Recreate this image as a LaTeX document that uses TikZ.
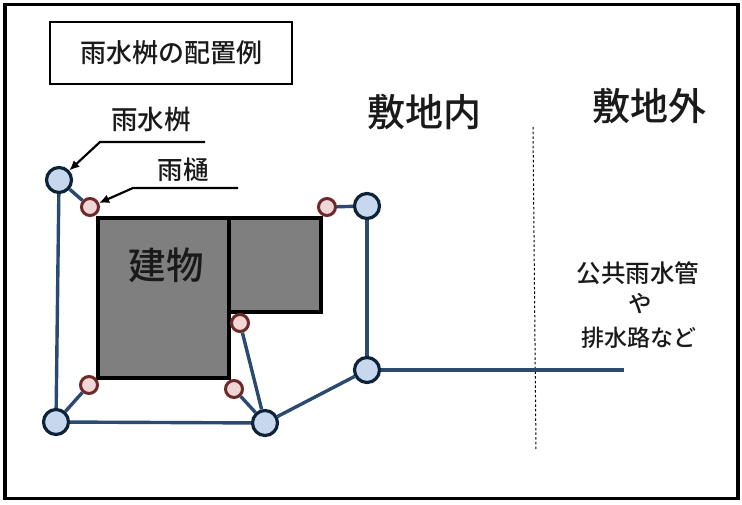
\documentclass[tikz,border=0pt]{standalone}
\usepackage{fontspec}
\usetikzlibrary{arrows.meta}
\setmainfont{Noto Sans CJK JP Medium}
\definecolor{pipe}{HTML}{2A4A72}
\definecolor{pitfill}{HTML}{C6D7EE}
\definecolor{pitline}{HTML}{0E2238}
\definecolor{spoutfill}{HTML}{F0D6D4}
\definecolor{spoutline}{HTML}{6E2A2A}
\definecolor{bldg}{HTML}{7F7F7F}
\definecolor{ink}{HTML}{1A1A1A}
\newcommand{\jp}[1]{\fontsize{#1}{#1}\selectfont}
\tikzset{
  pit/.style={circle,draw=pitline,fill=pitfill,line width=3.2pt,minimum size=25pt,inner sep=0pt},
  spout/.style={circle,draw=spoutline,fill=spoutfill,line width=3pt,minimum size=17pt,inner sep=0pt},
  pipeline/.style={draw=pipe,line width=3.4pt},
  building/.style={draw=black,fill=bldg,line width=3.4pt},
  leader/.style={draw=black,line width=2.2pt},
  label/.style={text=ink,inner sep=0pt,align=center}
}
\begin{document}
\begin{tikzpicture}[x=1pt,y=-1pt]
\useasboundingbox (0,0) rectangle (742,505);
\fill[white] (0,0) rectangle (742,505);
\draw[black,line width=3.4pt] (5,4.5) rectangle (738,498.5);
\node[draw=black,line width=2.2pt,minimum width=242pt,minimum height=62pt,inner sep=0pt,anchor=center,text=ink] (title) at (171,53) {\jp{26}雨水桝の配置例};
% buildings
\draw[building] (229,218) rectangle (321,312);
\draw[building] (98,218) rectangle (229,378);
\node[label] (bldgtext) at (166,265) {\jp{37.5}建物};
% boundary
\coordinate (dashtop) at (533,127);
\coordinate (dashbot) at (536,451);
\draw[black,line width=1pt,dash pattern=on 2.5pt off 2.2pt] (dashtop) -- (dashbot);
% nodes
\node[pit] (A) at (59,180) {};
\node[pit] (B) at (367,206) {};
\node[pit] (C) at (367,370) {};
\node[pit] (D) at (56,422) {};
\node[pit] (E) at (265,423) {};
\node[spout] (a) at (90,207) {};
\node[spout] (b) at (327,207) {};
\node[spout] (c) at (240,323) {};
\node[spout] (d) at (234,389) {};
\node[spout] (e) at (89,385) {};
\coordinate (outlet) at (624,370);
% pipes
\draw[pipeline] (A) -- (a);
\draw[pipeline] (A) -- (D);
\draw[pipeline] (B) -- (b);
\draw[pipeline] (B) -- (C);
\draw[pipeline] (C) -- (E);
\draw[pipeline] (D) -- (E);
\draw[pipeline] (D) -- (e);
\draw[pipeline] (E) -- (d);
\draw[pipeline] (E) -- (c);
\draw[pipeline] (C) -- (outlet);
% leaders
\coordinate (l1end) at (205,142);
\coordinate (l1bend) at (100,142);
\coordinate (l2end) at (238,188);
\coordinate (l2bend) at (133,188);
\draw[leader,-{Latex[length=10pt,width=9pt]}] (l1end) -- (l1bend) -- (A);
\draw[leader,-{Latex[length=10pt,width=9pt]}] (l2end) -- (l2bend) -- (a);
% labels
\node[label] (t1) at (151,119) {\jp{26.5}雨水桝};
\node[label] (t2) at (183,170) {\jp{25.5}雨樋};
\node[label] (t3) at (424,112) {\jp{38}敷地内};
\node[label] (t4) at (649,106) {\jp{38}敷地外};
\node[label] (t5) at (638,273) {\jp{24.5}公共雨水管};
\node[label] (t6) at (640,304) {\jp{23.5}や};
\node[label] (t7) at (639,338) {\jp{23}排水路など};
\end{tikzpicture}
\end{document}
